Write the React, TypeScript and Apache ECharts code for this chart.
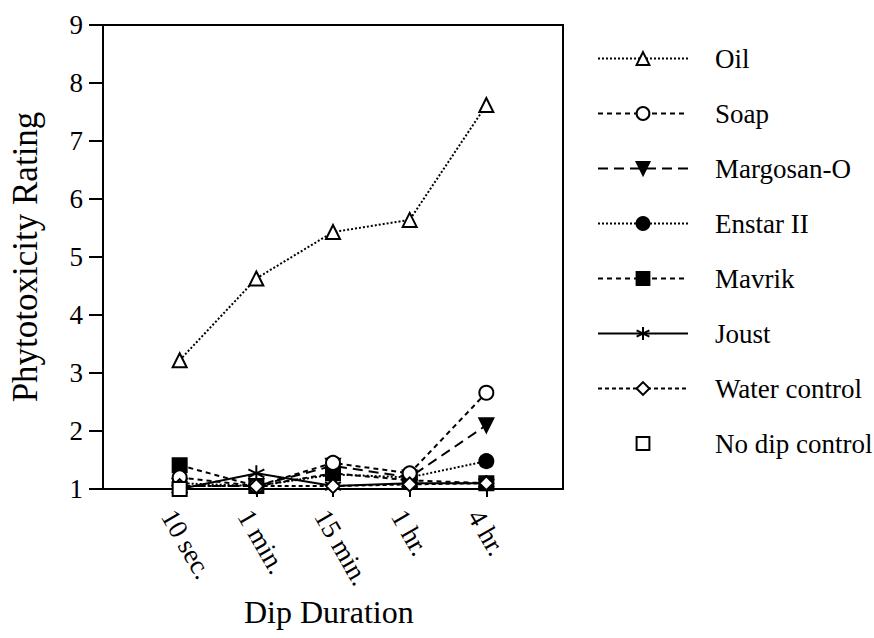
import React, { useEffect, useRef } from "react";
import * as echarts from "echarts";

const categories = ["10 sec.", "1 min.", "15 min.", "1 hr.", "4 hr."];
const yTicks = [1, 2, 3, 4, 5, 6, 7, 8, 9];

const oil = [3.22, 4.63, 5.43, 5.64, 7.62];
const soap = [1.2, 1.05, 1.45, 1.27, 2.66];
const margosan = [1.05, 1.05, 1.4, 1.2, 2.1];
const enstar = [1.1, 1.05, 1.25, 1.2, 1.48];
const mavrik = [1.41, 1.05, 1.27, 1.15, 1.1];
const joust = [1.0, 1.27, 1.05, 1.1, 1.1];
const water = [1.05, 1.05, 1.05, 1.08, 1.1];
const noDip = [1.0];

const FONT = "'Liberation Serif', 'Times New Roman', serif";
const ASTERISK = "path://M0,-10L0,10M-8.66,-5L8.66,5M-8.66,5L8.66,-5";

const toXY = (vals: number[]) => vals.map((v, i) => [i, v]);

export default function App() {
  const ref = useRef<HTMLDivElement>(null);
  useEffect(() => {
    document.body.style.margin = "0";
    if (!ref.current) return;
    const chart = echarts.init(ref.current, undefined, { renderer: "svg" });
    const base = (
      name: string,
      vals: number[],
      symbol: string,
      fill: string,
      dash: number[] | "solid",
      size: number,
      extra: any = {}
    ) => ({
      name,
      type: "line",
      data: toXY(vals),
      symbol,
      symbolSize: size,
      showAllSymbol: true,
      lineStyle: { color: "#000", width: 2, type: dash },
      itemStyle: { color: fill, borderColor: "#000", borderWidth: 2 },
      emphasis: { disabled: true },
      ...extra,
    });
    const series = [
      base("Oil", oil, "triangle", "#fff", [2, 2], 14),
      base("Enstar II", enstar, "circle", "#000", [2, 2], 14),
      base("Margosan-O", margosan, "triangle", "#000", [10, 6], 14, { symbolRotate: 180 }),
      base("Mavrik", mavrik, "rect", "#000", [5, 4], 14),
      base("Joust", joust, ASTERISK, "#000", "solid", 16),
      base("Soap", soap, "circle", "#fff", [5, 4], 14),
      base("Water control", water, "diamond", "#fff", [4, 3], 14),
      base("No dip control", noDip, "rect", "#fff", "solid", 14, {
        lineStyle: { color: "#000", width: 2, opacity: 0 },
      }),
    ];
    chart.setOption({
      animation: false,
      backgroundColor: "#fff",
      textStyle: { fontFamily: FONT, color: "#000" },
      grid: {
        left: 98,
        right: 311,
        top: 25,
        bottom: 149,
        show: true,
        borderColor: "#000",
        borderWidth: 2,
        containLabel: false,
      },
      legend: {
        orient: "vertical",
        left: 597,
        top: 45,
        padding: 0,
        itemWidth: 90,
        itemHeight: 16,
        itemGap: 28,
        selectedMode: false,
        data: [
          "Oil",
          "Soap",
          "Margosan-O",
          "Enstar II",
          "Mavrik",
          "Joust",
          "Water control",
          "No dip control",
        ],
        textStyle: {
          fontFamily: FONT,
          fontSize: 27,
          color: "#000",
          lineHeight: 20,
          padding: [0, 0, 0, 22],
        },
      },
      xAxis: {
        type: "value",
        min: -1,
        max: 5,
        interval: 1,
        splitLine: { show: false },
        axisLine: { show: true, onZero: false, lineStyle: { color: "#000", width: 2 } },
        axisTick: { show: true, length: 8, lineStyle: { color: "#000", width: 2 } },
        axisLabel: {
          rotate: -60,
          margin: 16,
          verticalAlign: "top",
          fontFamily: FONT,
          fontSize: 27,
          color: "#000",
          showMinLabel: false,
          showMaxLabel: false,
          formatter: (v: number) =>
            v >= 0 && v < categories.length ? categories[v] : "",
        },
      },
      yAxis: {
        type: "value",
        min: 1,
        max: 9,
        interval: 1,
        splitLine: { show: false },
        axisLine: { show: true, onZero: false, lineStyle: { color: "#000", width: 2 } },
        axisTick: { show: true, length: 14, lineStyle: { color: "#000", width: 2 } },
        axisLabel: {
          margin: 20,
          fontFamily: FONT,
          fontSize: 27,
          color: "#000",
          formatter: (v: number) => (yTicks.includes(v) ? String(v) : ""),
        },
        name: "Phytotoxicity Rating",
        nameLocation: "middle",
        nameGap: 60,
        nameTextStyle: { fontFamily: FONT, fontSize: 35, color: "#000" },
      },
      graphic: [
        {
          type: "text",
          left: 244,
          top: 596,
          style: {
            text: "Dip Duration",
            font: `32px ${FONT}`,
            fill: "#000",
          },
        },
      ],
      series,
    });
    return () => chart.dispose();
  }, []);
  return <div ref={ref} style={{ width: 874, height: 638 }} />;
}
